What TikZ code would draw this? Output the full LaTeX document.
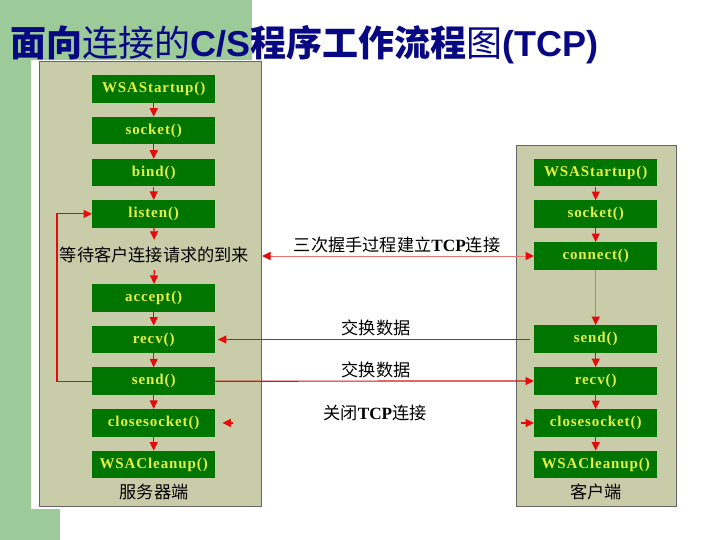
\documentclass[tikz,border=0pt]{standalone}
\usepackage{fontspec}
\setmainfont{Liberation Serif}
\newfontfamily\cjk{Noto Sans CJK SC}
\newfontfamily\boxfont{Liberation Serif}[LetterSpace=6]
\newfontfamily\titlelat{Liberation Sans}
\usetikzlibrary{arrows.meta}
\definecolor{bggreen}{RGB}{156,202,152}
\definecolor{panelc}{RGB}{200,204,168}
\definecolor{boxgreen}{RGB}{0,118,0}
\definecolor{boxtext}{RGB}{228,240,70}
\definecolor{titleblue}{RGB}{8,8,130}
\definecolor{arrred}{RGB}{230,10,10}
\definecolor{lightred}{RGB}{235,110,110}
\definecolor{darkred}{RGB}{210,20,20}
\tikzset{
  fn/.style={fill=boxgreen, minimum width=123pt, minimum height=27.5pt, inner sep=0pt,
    text=boxtext, font=\boxfont\bfseries\fontsize{15}{15}\selectfont},
  flow/.style={draw=arrred, line width=1.2pt, -{Triangle[length=8.5pt,width=8pt]}},
  lightflow/.style={draw=lightred, line width=1.2pt, -{Triangle[length=8.5pt,width=8pt,color=arrred]}},
  xflow/.style={draw=darkred, line width=1.2pt, -{Triangle[length=8.5pt,width=8pt,color=arrred]}},
  lbl/.style={font=\cjk\fontsize{17.2}{17.2}\selectfont, inner sep=0pt},
  panel/.style={fill=panelc, draw=gray!80!black, line width=0.8pt}
}
\begin{document}
\begin{tikzpicture}[x=1pt,y=-1pt]
\useasboundingbox (0,0) rectangle (720,540);
% background
\fill[bggreen] (0,0) rectangle (252,60);
\fill[bggreen] (0,0) rectangle (31,540);
\fill[bggreen] (0,509) rectangle (60,540);
\filldraw[panel] (39,61) rectangle (261,506);
\filldraw[panel] (516,145) rectangle (676,506);
% title
\node[anchor=base west, inner sep=0pt, text=titleblue, font=\fontsize{36}{36}\selectfont] (title) at (10,57)
  {\cjk\bfseries 面向\mdseries 连接的{\titlelat\bfseries C/S}\bfseries 程序工作流程\mdseries 图{\titlelat\bfseries (TCP)}};
% server side
\node[fn] (lws) at (153.7,88.9) {WSAStartup()};
\node[fn] (lsock) at (153.7,130.5) {socket()};
\node[fn] (lbind) at (153.7,172.7) {bind()};
\node[fn] (llis) at (153.7,213.9) {listen()};
\node[lbl, minimum height=30pt] (lwait) at (154.5,255) {等待客户连接请求的到来};
\node[fn] (lacc) at (153.7,297.9) {accept()};
\node[fn] (lrecv) at (153.7,339.5) {recv()};
\node[fn] (lsend) at (153.7,381.2) {send()};
\node[fn] (lclose) at (153.7,422.9) {closesocket()};
\node[fn] (lclean) at (153.7,464.5) {WSACleanup()};
\node[lbl] (lname) at (154,492) {服务器端};
% client side
\node[fn] (rws) at (595.7,172.7) {WSAStartup()};
\node[fn] (rsock) at (595.7,214) {socket()};
\node[fn] (rconn) at (595.7,256) {connect()};
\node[fn] (rsend) at (595.7,339) {send()};
\node[fn] (rrecv) at (595.7,381) {recv()};
\node[fn] (rclose) at (595.7,423) {closesocket()};
\node[fn] (rclean) at (595.7,464.5) {WSACleanup()};
\node[lbl] (rname) at (596,492) {客户端};
% middle labels
\node[lbl] (hsl) at (397,245) {三次握手过程建立\textrm{\bfseries TCP}连接};
\node[lbl] (ex1) at (376,328) {交换数据};
\node[lbl] (ex2) at (376,370) {交换数据};
\node[lbl] (cll) at (375,413) {关闭\textrm{\bfseries TCP}连接};
% server flow
\draw[flow] (lws) -- (lsock);
\draw[flow] (lsock) -- (lbind);
\draw[flow] (lbind) -- (llis);
\draw[flow] (llis) -- (lwait);
\draw[flow] (lwait) -- (lacc);
\draw[flow] (lacc) -- (lrecv);
\draw[flow] (lrecv) -- (lsend);
\draw[flow] (lsend) -- (lclose);
\draw[flow] (lclose) -- (lclean);
\draw[flow] (lsend.west) -- ++(-35,0) |- (llis.west);
% client flow
\draw[flow] (rws) -- (rsock);
\draw[flow] (rsock) -- (rconn);
\draw[lightflow] (rconn) -- (rsend);
\draw[flow] (rsend) -- (rrecv);
\draw[flow] (rrecv) -- (rclose);
\draw[flow] (rclose) -- (rclean);
% between
\coordinate (hsL) at (262,256);
\draw[draw=lightred, line width=1pt, {Triangle[length=8.5pt,width=8pt,color=arrred]}-{Triangle[length=8.5pt,width=8pt,color=arrred]}] (hsL) -- (rconn.west);
\coordinate (ex1R) at (530,339.5);
\draw[xflow, shorten >=2.5pt] (ex1R) -- (lrecv.east);
\draw[xflow] (lsend.east) -- (rrecv.west);
\coordinate (clL) at (233,422.9);
\draw[flow, shorten >=7pt] (clL) -- (lclose.east);
\coordinate (clR) at (521,423);
\draw[flow] (clR) -- (rclose.west);
\end{tikzpicture}
\end{document}
